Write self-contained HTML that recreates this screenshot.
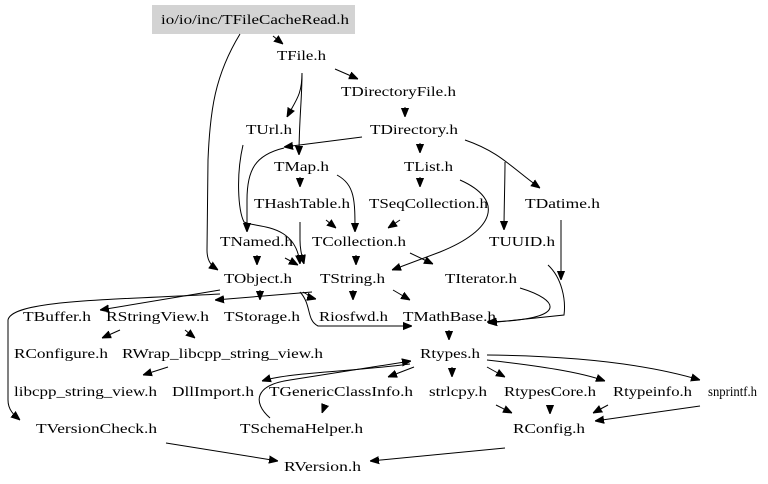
<!DOCTYPE html>
<html><head><meta charset="utf-8"><style>
html,body{margin:0;padding:0;background:#fff;}
svg{display:block;}
text{font-family:"Liberation Serif",serif;font-size:14px;fill:#000;}
path{fill:none;stroke:#000;stroke-width:1;}
</style></head><body>
<svg width="768" height="484" viewBox="0 0 768 484" xmlns="http://www.w3.org/2000/svg">
<defs><marker id="a" viewBox="0 0 10 10" refX="10" refY="5" markerWidth="9" markerHeight="9" markerUnits="userSpaceOnUse" orient="auto"><path d="M0,1 L10,5 L0,9 Z" style="fill:#000;stroke:#000"/></marker></defs>
<rect x="152" y="5" width="203" height="29" fill="#d3d3d3"/>
<g>
<text x="161" y="24" textLength="188" lengthAdjust="spacingAndGlyphs">io/io/inc/TFileCacheRead.h</text>
<text x="277" y="60" textLength="49" lengthAdjust="spacingAndGlyphs">TFile.h</text>
<text x="341" y="96" textLength="115" lengthAdjust="spacingAndGlyphs">TDirectoryFile.h</text>
<text x="246" y="134" textLength="46" lengthAdjust="spacingAndGlyphs">TUrl.h</text>
<text x="370" y="134" textLength="88" lengthAdjust="spacingAndGlyphs">TDirectory.h</text>
<text x="274" y="171" textLength="55" lengthAdjust="spacingAndGlyphs">TMap.h</text>
<text x="404" y="171" textLength="49" lengthAdjust="spacingAndGlyphs">TList.h</text>
<text x="254" y="208" textLength="96" lengthAdjust="spacingAndGlyphs">THashTable.h</text>
<text x="369" y="208" textLength="119" lengthAdjust="spacingAndGlyphs">TSeqCollection.h</text>
<text x="525" y="208" textLength="75" lengthAdjust="spacingAndGlyphs">TDatime.h</text>
<text x="220" y="246" textLength="73" lengthAdjust="spacingAndGlyphs">TNamed.h</text>
<text x="312" y="246" textLength="94" lengthAdjust="spacingAndGlyphs">TCollection.h</text>
<text x="489" y="246" textLength="66" lengthAdjust="spacingAndGlyphs">TUUID.h</text>
<text x="224" y="283" textLength="68" lengthAdjust="spacingAndGlyphs">TObject.h</text>
<text x="320" y="283" textLength="65" lengthAdjust="spacingAndGlyphs">TString.h</text>
<text x="445" y="283" textLength="72" lengthAdjust="spacingAndGlyphs">TIterator.h</text>
<text x="23" y="321" textLength="68" lengthAdjust="spacingAndGlyphs">TBuffer.h</text>
<text x="106" y="321" textLength="103" lengthAdjust="spacingAndGlyphs">RStringView.h</text>
<text x="224" y="321" textLength="76" lengthAdjust="spacingAndGlyphs">TStorage.h</text>
<text x="319" y="321" textLength="69" lengthAdjust="spacingAndGlyphs">Riosfwd.h</text>
<text x="403" y="321" textLength="93" lengthAdjust="spacingAndGlyphs">TMathBase.h</text>
<text x="14" y="358" textLength="94" lengthAdjust="spacingAndGlyphs">RConfigure.h</text>
<text x="122" y="358" textLength="201" lengthAdjust="spacingAndGlyphs">RWrap_libcpp_string_view.h</text>
<text x="420" y="358" textLength="60" lengthAdjust="spacingAndGlyphs">Rtypes.h</text>
<text x="14" y="396" textLength="143" lengthAdjust="spacingAndGlyphs">libcpp_string_view.h</text>
<text x="172" y="396" textLength="82" lengthAdjust="spacingAndGlyphs">DllImport.h</text>
<text x="269" y="396" textLength="144" lengthAdjust="spacingAndGlyphs">TGenericClassInfo.h</text>
<text x="429" y="396" textLength="58" lengthAdjust="spacingAndGlyphs">strlcpy.h</text>
<text x="504" y="396" textLength="92" lengthAdjust="spacingAndGlyphs">RtypesCore.h</text>
<text x="613" y="396" textLength="79" lengthAdjust="spacingAndGlyphs">Rtypeinfo.h</text>
<text x="708" y="396" textLength="49" lengthAdjust="spacingAndGlyphs">snprintf.h</text>
<text x="36" y="433" textLength="121" lengthAdjust="spacingAndGlyphs">TVersionCheck.h</text>
<text x="240" y="433" textLength="123" lengthAdjust="spacingAndGlyphs">TSchemaHelper.h</text>
<text x="513" y="433" textLength="72" lengthAdjust="spacingAndGlyphs">RConfig.h</text>
<text x="284" y="471" textLength="77" lengthAdjust="spacingAndGlyphs">RVersion.h</text>
</g>
<g marker-end="url(#a)">
<path d="M273,36 L283,44"/>
<path d="M240,34 C215,75 210,110 208,160 L207,250 C207,262 212,266 218,270"/>
<path d="M335,69 L358,79"/>
<path d="M302,73 C302,95 296,100 287,117"/>
<path d="M302,73 C302,100 299,120 299,155"/>
<path d="M405,107 L405,117"/>
<path d="M362,137 L284,147"/>
<path d="M284,148 C255,155 247,170 247,200 L247,232"/>
<path d="M420,143 L420,153"/>
<path d="M465,140 C500,152 512,168 540,188"/>
<path d="M505,162 C505,180 504,210 504,230"/>
<path d="M300,177 L300,187"/>
<path d="M337,175 C355,185 355,200 355,232"/>
<path d="M420,177 L420,187"/>
<path d="M460,180 C505,200 495,230 440,252 L392,270"/>
<path d="M326,220 L336,228"/>
<path d="M400,220 L388,228"/>
<path d="M300,222 L300,240 C300,250 302,256 304,264"/>
<path d="M243,145 C236,175 238,210 244,222 C255,228 296,222 300,264"/>
<path d="M257,255 L257,265"/>
<path d="M285,258 L298,265"/>
<path d="M356,255 L356,265"/>
<path d="M410,253 L433,264"/>
<path d="M520,288 C560,300 570,320 487,322"/>
<path d="M548,265 C562,278 566,300 564,315 L488,323"/>
<path d="M561,220 L561,280"/>
<path d="M220,290 L100,310"/>
<path d="M220,294 C110,300 12,300 8,320 L8,400 C8,410 14,415 20,420"/>
<path d="M260,290 L260,300"/>
<path d="M300,292 C312,305 306,320 318,326 L412,326"/>
<path d="M312,292 L215,300"/>
<path d="M303,292 C310,296 312,298 316,299"/>
<path d="M353,290 L353,300"/>
<path d="M393,290 L410,300"/>
<path d="M120,330 L102,338"/>
<path d="M185,330 L195,338"/>
<path d="M449,330 L449,340"/>
<path d="M168,367 L143,375"/>
<path d="M410,364 C350,372 290,372 262,381"/>
<path d="M270,418 C252,402 255,385 290,380 L411,361"/>
<path d="M414,367 L388,377"/>
<path d="M452,367 L452,377"/>
<path d="M487,367 L505,377"/>
<path d="M487,360 C540,366 580,372 605,381"/>
<path d="M487,355 C580,356 650,365 700,380"/>
<path d="M325,405 L322,413"/>
<path d="M496,405 L512,413"/>
<path d="M550,405 L550,414"/>
<path d="M608,405 L593,413"/>
<path d="M700,406 L595,421"/>
<path d="M166,443 L278,461"/>
<path d="M505,448 L370,461"/>
</g>
</svg>
</body></html>
